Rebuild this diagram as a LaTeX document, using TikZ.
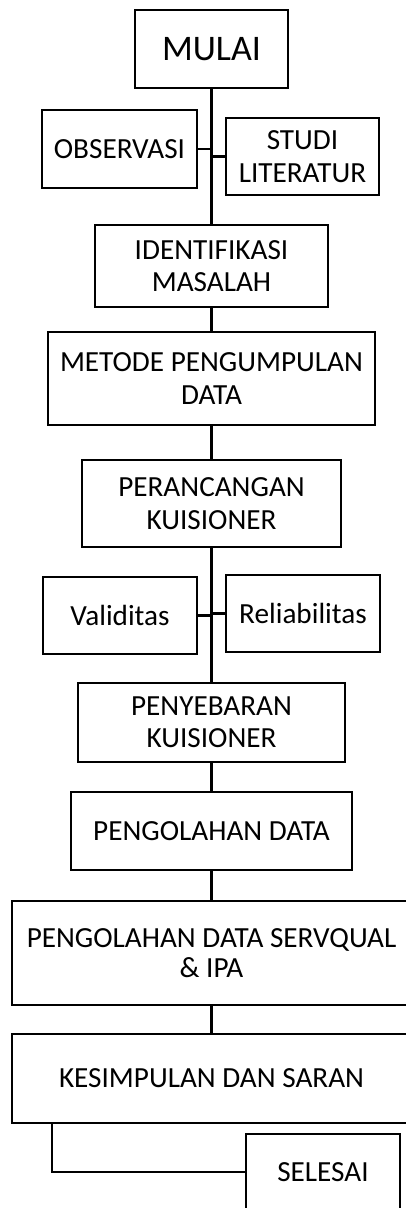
\documentclass[tikz,border=0pt]{standalone}
\usepackage{fontspec}
\setmainfont{Carlito}
\usetikzlibrary{positioning,calc}
\tikzset{
    every picture/.style={line join=miter},
    procbox/.style={draw=black,fill=white,line width=1.2pt,
      inner sep=2pt,font=\fontsize{14.6}{16.2}\selectfont,align=center},
    spine/.style={draw=black,line width=1.1pt}
}

\begin{document}
\begin{tikzpicture}[x=0.5pt,y=-0.5pt]
  \useasboundingbox (0,0) rectangle (406,1208);

  \node[procbox,minimum width=76.5pt,minimum height=39pt,
    font=\fontsize{18}{20}\selectfont] (mulai) at (211.5,49) {MULAI};
  \node[procbox,minimum width=77.5pt,minimum height=39pt] (observasi) at (119.5,149) {OBSERVASI};
  \node[procbox,minimum width=76.5pt,minimum height=38.5pt] (studi) at (302.5,156.5) {STUDI\\LITERATUR};
  \node[procbox,minimum width=116.5pt,minimum height=41pt] (identifikasi) at (211.5,266) {IDENTIFIKASI\\MASALAH};
  \node[procbox,minimum width=163.5pt,minimum height=46.5pt] (metode) at (211.5,378.5) {METODE PENGUMPULAN\\DATA};
  \node[procbox,minimum width=129.5pt,minimum height=43.5pt] (perancangan) at (211.5,503.5) {PERANCANGAN\\KUISIONER};
  \node[procbox,minimum width=77pt,minimum height=38.5pt] (validitas) at (120,615.5) {Validitas};
  \node[procbox,minimum width=77pt,minimum height=38.5pt] (reliabilitas) at (303,613.5) {Reliabilitas};
  \node[procbox,minimum width=133.5pt,minimum height=39.5pt] (penyebaran) at (211.5,722.5) {PENYEBARAN\\KUISIONER};
  \node[procbox,minimum width=140.5pt,minimum height=39pt] (pengolahan) at (211.5,831) {PENGOLAHAN DATA};
  \node[procbox,minimum width=199.5pt,minimum height=52pt,
    font=\fontsize{14.6}{15}\selectfont] (servqual) at (211.5,953) {PENGOLAHAN DATA SERVQUAL\\\& IPA};
  \node[procbox,minimum width=199.5pt,minimum height=44.5pt] (kesimpulan) at (211.5,1078.5) {KESIMPULAN DAN SARAN};
  \node[procbox,minimum width=77pt,minimum height=38pt] (selesai) at (323,1172) {SELESAI};

  % main line
  \draw[spine] (mulai.south) -- (identifikasi.north);
  \draw[spine] (observasi.east) -- (observasi.east -| mulai.south);
  \draw[spine] (studi.west) -- (studi.west -| mulai.south);
  \draw[spine] (identifikasi) -- (metode);
  \draw[spine] (metode) -- (perancangan);
  \draw[spine] (perancangan.south) -- (penyebaran.north);
  \draw[spine] (validitas.east) -- (validitas.east -| perancangan.south);
  \draw[spine] (reliabilitas.west) -- (reliabilitas.west -| perancangan.south);
  \draw[spine] (penyebaran) -- (pengolahan);
  \draw[spine] (pengolahan) -- (servqual);
  \draw[spine] (servqual) -- (kesimpulan);
  \draw[spine] ([xshift=20.5pt]kesimpulan.south west) |- (selesai.west);
\end{tikzpicture}
\end{document}
